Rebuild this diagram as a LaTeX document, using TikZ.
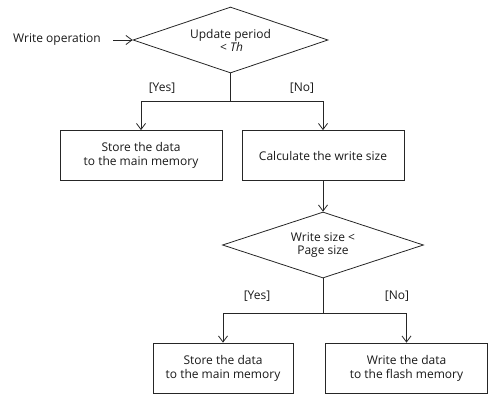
\documentclass[tikz,border=0pt]{standalone}
\usepackage{fontspec}
\setmainfont{Open Sans}
\usetikzlibrary{shapes.geometric,arrows.meta}
\begin{document}
\begin{tikzpicture}[x=1pt,y=-1pt,
  every node/.style={font=\fontsize{12}{14}\selectfont, text=black!90},
  line/.style={draw=black!85, line width=0.8pt},
  arr/.style={line, -{Straight Barb[length=6pt,width=9pt]}},
  box/.style={line, rectangle, minimum height=50pt, align=center, inner sep=0pt},
  dia/.style={line, diamond, aspect=2.95, inner sep=0pt, align=center},
  lbl/.style={inner sep=1pt}]
\useasboundingbox (0,0) rectangle (498,394);
% decisions
\node[dia, minimum width=195pt, minimum height=66pt] (d1) at (230.5,40) {Update period\\[-1pt]\,< \textit{Th}};
\node[dia, minimum width=201pt, minimum height=66pt] (d2) at (323,245) {Write size <\\[-1pt]Page size};
% boxes
\node[box, minimum width=162pt] (b1) at (141,155.5) {Store the data\\to the main memory};
\node[box, minimum width=162pt] (b2) at (323,155.5) {Calculate the write size};
\node[box, minimum width=140pt] (b3) at (223,368) {Store the data\\to the main memory};
\node[box, minimum width=162pt] (b4) at (406.5,368) {Write the data\\to the flash memory};
% start
\node[lbl] (start) at (57,40) {Write operation};
\coordinate (s1) at (113,40);
\draw[arr] (s1) -- (d1.west);
% branch 1
\coordinate (j1) at (230.5,101);
\draw[line] (d1.south) -- (j1);
\draw[arr] (j1) -| (b1.north);
\draw[arr] (j1) -| (b2.north);
\node[lbl] (y1) at (162,88) {[Yes]};
\node[lbl] (n1) at (302,88) {[No]};
% to decision 2
\draw[arr] (b2.south) -- (d2.north);
% branch 2
\coordinate (j2) at (323,313);
\draw[line] (d2.south) -- (j2);
\draw[arr] (j2) -| (b3.north);
\draw[arr] (j2) -| (b4.north);
\node[lbl] (y2) at (257,296) {[Yes]};
\node[lbl] (n2) at (397,296) {[No]};
\end{tikzpicture}
\end{document}
